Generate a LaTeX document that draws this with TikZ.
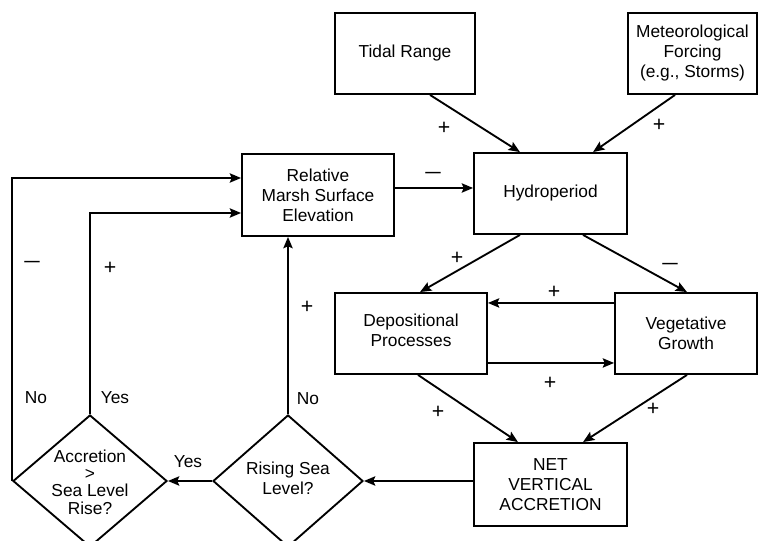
\documentclass[tikz,border=0pt]{standalone}
\usepackage{fontspec}
\setmainfont{Liberation Sans}
\usetikzlibrary{shapes.geometric,arrows.meta,calc}
\begin{document}
\begin{tikzpicture}[x=0.75pt,y=-0.75pt,
  every node/.style={font=\fontsize{13}{15}\selectfont},
  box/.style={draw,line width=1.4pt,rectangle,inner sep=0pt,align=center},
  dia/.style={draw,line width=1.4pt,diamond,inner sep=0pt},
  lab/.style={inner sep=0pt,align=center},
  sgn/.style={inner sep=0pt,font=\fontsize{16}{16}\selectfont},
  arr/.style={line width=1.4pt,-{Stealth[length=8.5pt,width=7pt,inset=1.5pt]}},
  ln/.style={line width=1.4pt}]
\useasboundingbox (0,0) rectangle (761,541);
\begin{scope}
\clip (0,0) rectangle (761,541);
\node[box,minimum width=105pt,minimum height=60.75pt] (tidal) at (405,53.5) {Tidal Range};
\node[box,minimum width=96.75pt,minimum height=60.75pt] (met) at (692.5,53.5) {Meteorological\\Forcing\\(e.g., Storms)};
\node[box,minimum width=114.75pt,minimum height=60.75pt] (hydro) at (550.5,193.5) {Hydroperiod};
\node[box,minimum width=114pt,minimum height=61.5pt] (rel) at (318,195) {Relative\\Marsh Surface\\Elevation};
\node[box,minimum width=114pt,minimum height=60.75pt] (dep) at (411,333.5) {};
\node[lab] (deptxt) at (411,330) {Depositional\\Processes};
\node[box,minimum width=106.5pt,minimum height=60.75pt] (veg) at (686,333.5) {Vegetative\\Growth};
\node[box,minimum width=114.75pt,minimum height=62.25pt] (net) at (550.5,484.5) {NET\\VERTICAL\\ACCRETION};
\node[dia,minimum width=112.5pt,minimum height=99pt] (rise) at (288,481) {};
\node[lab] (risetxt) at (288,478) {Rising Sea\\Level?};
\node[dia,minimum width=115.5pt,minimum height=99pt] (acc) at (90,481) {};
\node[lab,font=\fontsize{13}{13}\selectfont] (acctxt) at (90,482) {Accretion\\>\\Sea Level\\Rise?};
\end{scope}
% connectors
\draw[arr] ([xshift=18.75pt]tidal.south) -- ([xshift=-22.9pt]hydro.north);
\draw[arr] ([xshift=-13.1pt]met.south) -- ([xshift=31.9pt]hydro.north);
\draw[arr] ([yshift=5.25pt]rel.east) coordinate (a1) -- (a1 -| hydro.west);
\draw[arr] ([xshift=-22.9pt]hydro.south) -- ([xshift=6.75pt]dep.north);
\draw[arr] ([xshift=24.4pt]hydro.south) -- ([xshift=0.75pt]veg.north);
\draw[arr] ([yshift=22.9pt]veg.west) coordinate (a2) -- (a2 -| dep.east);
\draw[arr] ([yshift=-22.1pt]dep.east) coordinate (a3) -- (a3 -| veg.west);
\draw[arr] ([xshift=5.25pt]dep.south) -- ([xshift=-24.4pt]net.north);
\draw[arr] ([xshift=0.75pt]veg.south) -- ([xshift=24.4pt]net.north);
\draw[arr] (rise.east -| net.west) -- (rise.east);
\draw[arr] (rise.west) -- (acc.east);
\draw[arr] (rise.north) -- (rise.north |- rel.south);
\draw[arr] (acc.north) |- ([yshift=-13.5pt]rel.west);
\draw[arr] (acc.west) |- ([yshift=12.75pt]rel.west);
% labels
\node[sgn] (s1) at (444,128) {+};
\node[sgn] (s2) at (659,125) {+};
\node[sgn] (s3) at (433,175) {\scalebox{1.3}[1]{–}};
\node[sgn] (s4) at (457,258) {+};
\node[sgn] (s5) at (670,266) {\scalebox{1.3}[1]{–}};
\node[sgn] (s6) at (554,292) {+};
\node[sgn] (s7) at (550,383) {+};
\node[sgn] (s8) at (438,412) {+};
\node[sgn] (s9) at (653,409) {+};
\node[sgn] (s10) at (32,264) {\scalebox{1.3}[1]{–}};
\node[sgn] (s11) at (110,268) {+};
\node[sgn] (s12) at (307,307) {+};
\node[lab] (l1) at (36,398) {No};
\node[lab] (l2) at (115,398) {Yes};
\node[lab] (l3) at (308,399) {No};
\node[lab] (l4) at (188,462) {Yes};
\end{tikzpicture}
\end{document}
